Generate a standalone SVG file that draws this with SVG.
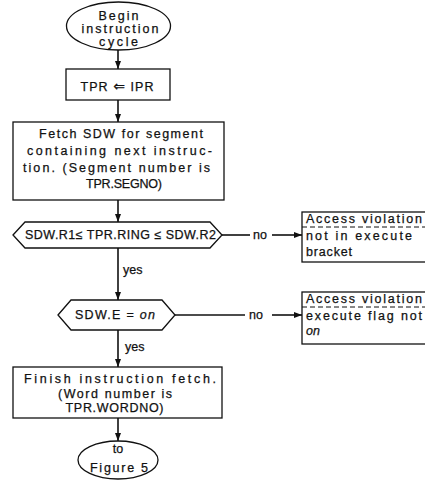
<svg xmlns="http://www.w3.org/2000/svg" width="425" height="481" viewBox="0 0 425 481">
  <style>
    .shape { fill: #fff; stroke: #111; stroke-width: 1.3; }
    .edge { fill: none; stroke: #111; stroke-width: 1.6; }
    .sep { stroke: #111; stroke-width: 1; stroke-dasharray: 5 3; }
    text { font-family: "Liberation Sans", "DejaVu Sans", Arial, sans-serif; font-size: 12.5px; fill: #111; stroke: #111; stroke-width: 0.25; }
    .c { text-anchor: middle; }
    .it { font-style: italic; }
    .sym { font-family: "DejaVu Sans", sans-serif; font-size: 14px; }
  </style>
  <defs>
    <marker id="arrow" viewBox="0 0 8 6" refX="8" refY="3" markerWidth="8" markerHeight="6" markerUnits="userSpaceOnUse" orient="auto">
      <path d="M0,0 L8,3 L0,6 z" fill="#111"/>
    </marker>
  </defs>
  <rect width="425" height="481" fill="#fff"/>

  <!-- connectors -->
  <g id="connectors">
    <line class="edge" x1="118" y1="50" x2="118" y2="69" marker-end="url(#arrow)"/>
    <line class="edge" x1="118" y1="100" x2="118" y2="122" marker-end="url(#arrow)"/>
    <line class="edge" x1="118" y1="200" x2="118" y2="222" marker-end="url(#arrow)"/>
    <line class="edge" x1="118" y1="248" x2="118" y2="300" marker-end="url(#arrow)"/>
    <line class="edge" x1="118" y1="330" x2="118" y2="367" marker-end="url(#arrow)"/>
    <line class="edge" x1="118" y1="418" x2="118" y2="441" marker-end="url(#arrow)"/>
    <line class="edge" x1="222" y1="235" x2="250" y2="235"/>
    <line class="edge" x1="272" y1="235" x2="302" y2="235" marker-end="url(#arrow)"/>
    <line class="edge" x1="175" y1="315" x2="245" y2="315"/>
    <line class="edge" x1="272" y1="315" x2="302" y2="315" marker-end="url(#arrow)"/>
    <text x="123" y="274">yes</text>
    <text x="125" y="351">yes</text>
    <text x="253" y="239">no</text>
    <text x="249" y="319">no</text>
  </g>

  <g id="begin">
    <ellipse class="shape" cx="118.5" cy="26" rx="52" ry="24"/>
    <text class="c" x="118.5" y="20" textLength="40" lengthAdjust="spacing">Begin</text>
    <text class="c" x="120" y="33" textLength="77" lengthAdjust="spacing">instruction</text>
    <text class="c" x="118.5" y="46" textLength="39" lengthAdjust="spacing">cycle</text>
  </g>

  <g id="load-tpr">
    <rect class="shape" x="66" y="69" width="104" height="31"/>
    <text class="c" x="117" y="91" textLength="73" lengthAdjust="spacing">TPR <tspan class="sym">⇐</tspan> IPR</text>
  </g>

  <g id="fetch-sdw">
    <rect class="shape" x="13" y="122" width="211" height="78"/>
    <text class="c" x="121" y="138" textLength="164" lengthAdjust="spacing">Fetch SDW for segment</text>
    <text class="c" x="119.5" y="155" textLength="185" lengthAdjust="spacing">containing next instruc-</text>
    <text class="c" x="116.5" y="172" textLength="187" lengthAdjust="spacing">tion. (Segment number is</text>
    <text class="c" x="124" y="188" textLength="76" lengthAdjust="spacing">TPR.SEGNO)</text>
  </g>

  <g id="ring-check">
    <polygon class="shape" points="13,235 25,222 210,222 222,235 210,248 25,248"/>
    <text class="c" x="120.5" y="239" textLength="191" lengthAdjust="spacing">SDW.R1≤ TPR.RING ≤ SDW.R2</text>
  </g>

  <g id="ring-violation">
    <rect class="shape" x="302" y="212" width="130" height="50"/>
    <line class="sep" x1="302" y1="227" x2="425" y2="227"/>
    <text x="306" y="223" textLength="116" lengthAdjust="spacing">Access violation</text>
    <text x="306" y="240" textLength="106" lengthAdjust="spacing">not in execute</text>
    <text x="306" y="256" textLength="46" lengthAdjust="spacing">bracket</text>
  </g>

  <g id="exec-check">
    <polygon class="shape" points="58,315 71,300 162,300 175,315 162,330 71,330"/>
    <text x="75" y="319" textLength="80" lengthAdjust="spacing">SDW.E = <tspan class="it">on</tspan></text>
  </g>

  <g id="exec-violation">
    <rect class="shape" x="302" y="292" width="130" height="52"/>
    <line class="sep" x1="302" y1="307" x2="425" y2="307"/>
    <text x="306" y="303" textLength="116" lengthAdjust="spacing">Access violation</text>
    <text x="306" y="320" textLength="116" lengthAdjust="spacing">execute flag not</text>
    <text class="it" x="306" y="335">on</text>
  </g>

  <g id="finish-fetch">
    <rect class="shape" x="13" y="367" width="209" height="51"/>
    <text class="c" x="120" y="383" textLength="192" lengthAdjust="spacing">Finish instruction fetch.</text>
    <text class="c" x="115" y="398" textLength="114" lengthAdjust="spacing">(Word number is</text>
    <text class="c" x="114.5" y="412" textLength="98" lengthAdjust="spacing">TPR.WORDNO)</text>
  </g>

  <g id="to-figure5">
    <ellipse class="shape" cx="118" cy="460" rx="40" ry="19"/>
    <text class="c" x="118" y="453">to</text>
    <text class="c" x="119" y="472" textLength="58" lengthAdjust="spacing">Figure 5</text>
  </g>
</svg>
